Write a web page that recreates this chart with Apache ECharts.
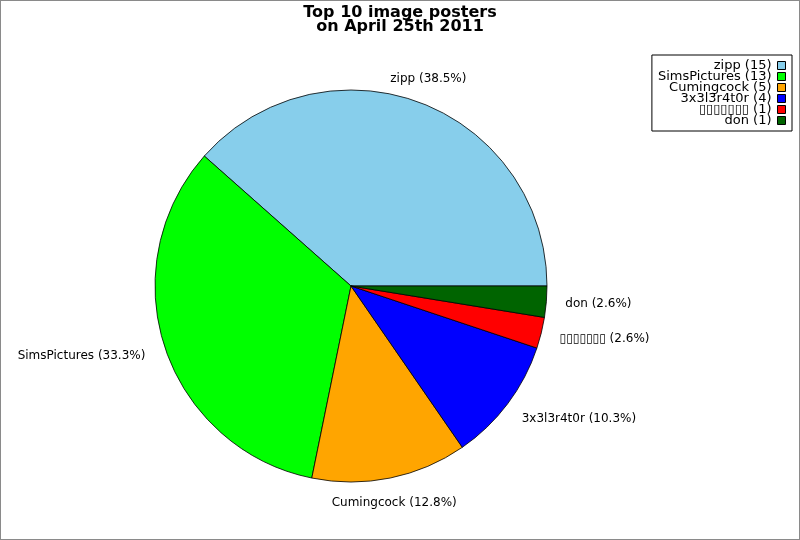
<!DOCTYPE html>
<html>
<head>
<meta charset="utf-8">
<script src="https://cdn.jsdelivr.net/npm/echarts@6/dist/echarts.min.js"></script>
<style>
  html, body { margin: 0; padding: 0; background: #fff; }
  #chart { width: 800px; height: 540px; box-sizing: border-box; border: 1px solid #8a8a8a; }
</style>
</head>
<body>
<div id="chart"></div>
<script>
// Poster names (the fifth one was drawn as missing-glyph boxes in the original)
const posters = ["zipp", "SimsPictures", "Cumingcock", "3x3l3r4t0r", "\u25AF\u25AF\u25AF\u25AF\u25AF\u25AF\u25AF", "don"];
const imageCounts = [15, 13, 5, 4, 1, 1];
const sliceColors = ["#87ceeb", "#00ff00", "#ffa500", "#0000ff", "#ff0000", "#006400"];
// slices whose label sits centred over its anchor point
const centredLabels = [true, false, true, false, false, false];

const total = imageCounts.reduce((a, b) => a + b, 0);
const CX = 350;

const chart = echarts.init(document.getElementById('chart'));

const pieData = posters.map((name, i) => ({
  name: name,
  value: imageCounts[i],
  itemStyle: { color: sliceColors[i] }
}));

chart.setOption({
  animation: false,
  title: {
    text: 'Top 10 image posters\non April 25th 2011',
    left: 'center',
    top: 0,
    textStyle: { fontFamily: 'DejaVu Sans', fontWeight: 'bold', fontSize: 16, lineHeight: 14, color: '#000' }
  },
  legend: {
    orient: 'vertical',
    right: 7,
    top: 54,
    align: 'right',
    icon: 'rect',
    itemWidth: 8,
    itemHeight: 8,
    itemGap: -2,
    padding: [4, 6, 4, 6],
    borderColor: '#000',
    borderWidth: 1,
    borderRadius: 0,
    itemStyle: { borderColor: '#000', borderWidth: 1 },
    textStyle: { fontFamily: 'DejaVu Sans', fontSize: 13, lineHeight: 10, color: '#000', padding: [0, 1, 0, 0] },
    formatter: name => {
      const i = posters.indexOf(name);
      return name + ' (' + imageCounts[i] + ')';
    },
    data: posters
  },
  series: [{
    type: 'pie',
    center: [CX, 285],
    radius: 196,
    startAngle: 0,
    clockwise: false,
    avoidLabelOverlap: false,
    itemStyle: { borderColor: '#000', borderWidth: 0.8 },
    emphasis: { disabled: true },
    label: {
      show: true,
      position: 'outside',
      fontFamily: 'DejaVu Sans',
      fontSize: 12,
      color: '#000',
      formatter: p => p.name + ' (' + (p.value / total * 100).toFixed(1) + '%)'
    },
    labelLine: { show: false, length: 25, length2: 0 },
    labelLayout: params => {
      const r = params.labelRect;
      if (centredLabels[params.dataIndex]) {
        return { dx: -r.width / 2 - 6 };
      }
      return { dx: r.x + r.width / 2 > CX ? -11 : 9 };
    },
    data: pieData
  }]
});
</script>
</body>
</html>
